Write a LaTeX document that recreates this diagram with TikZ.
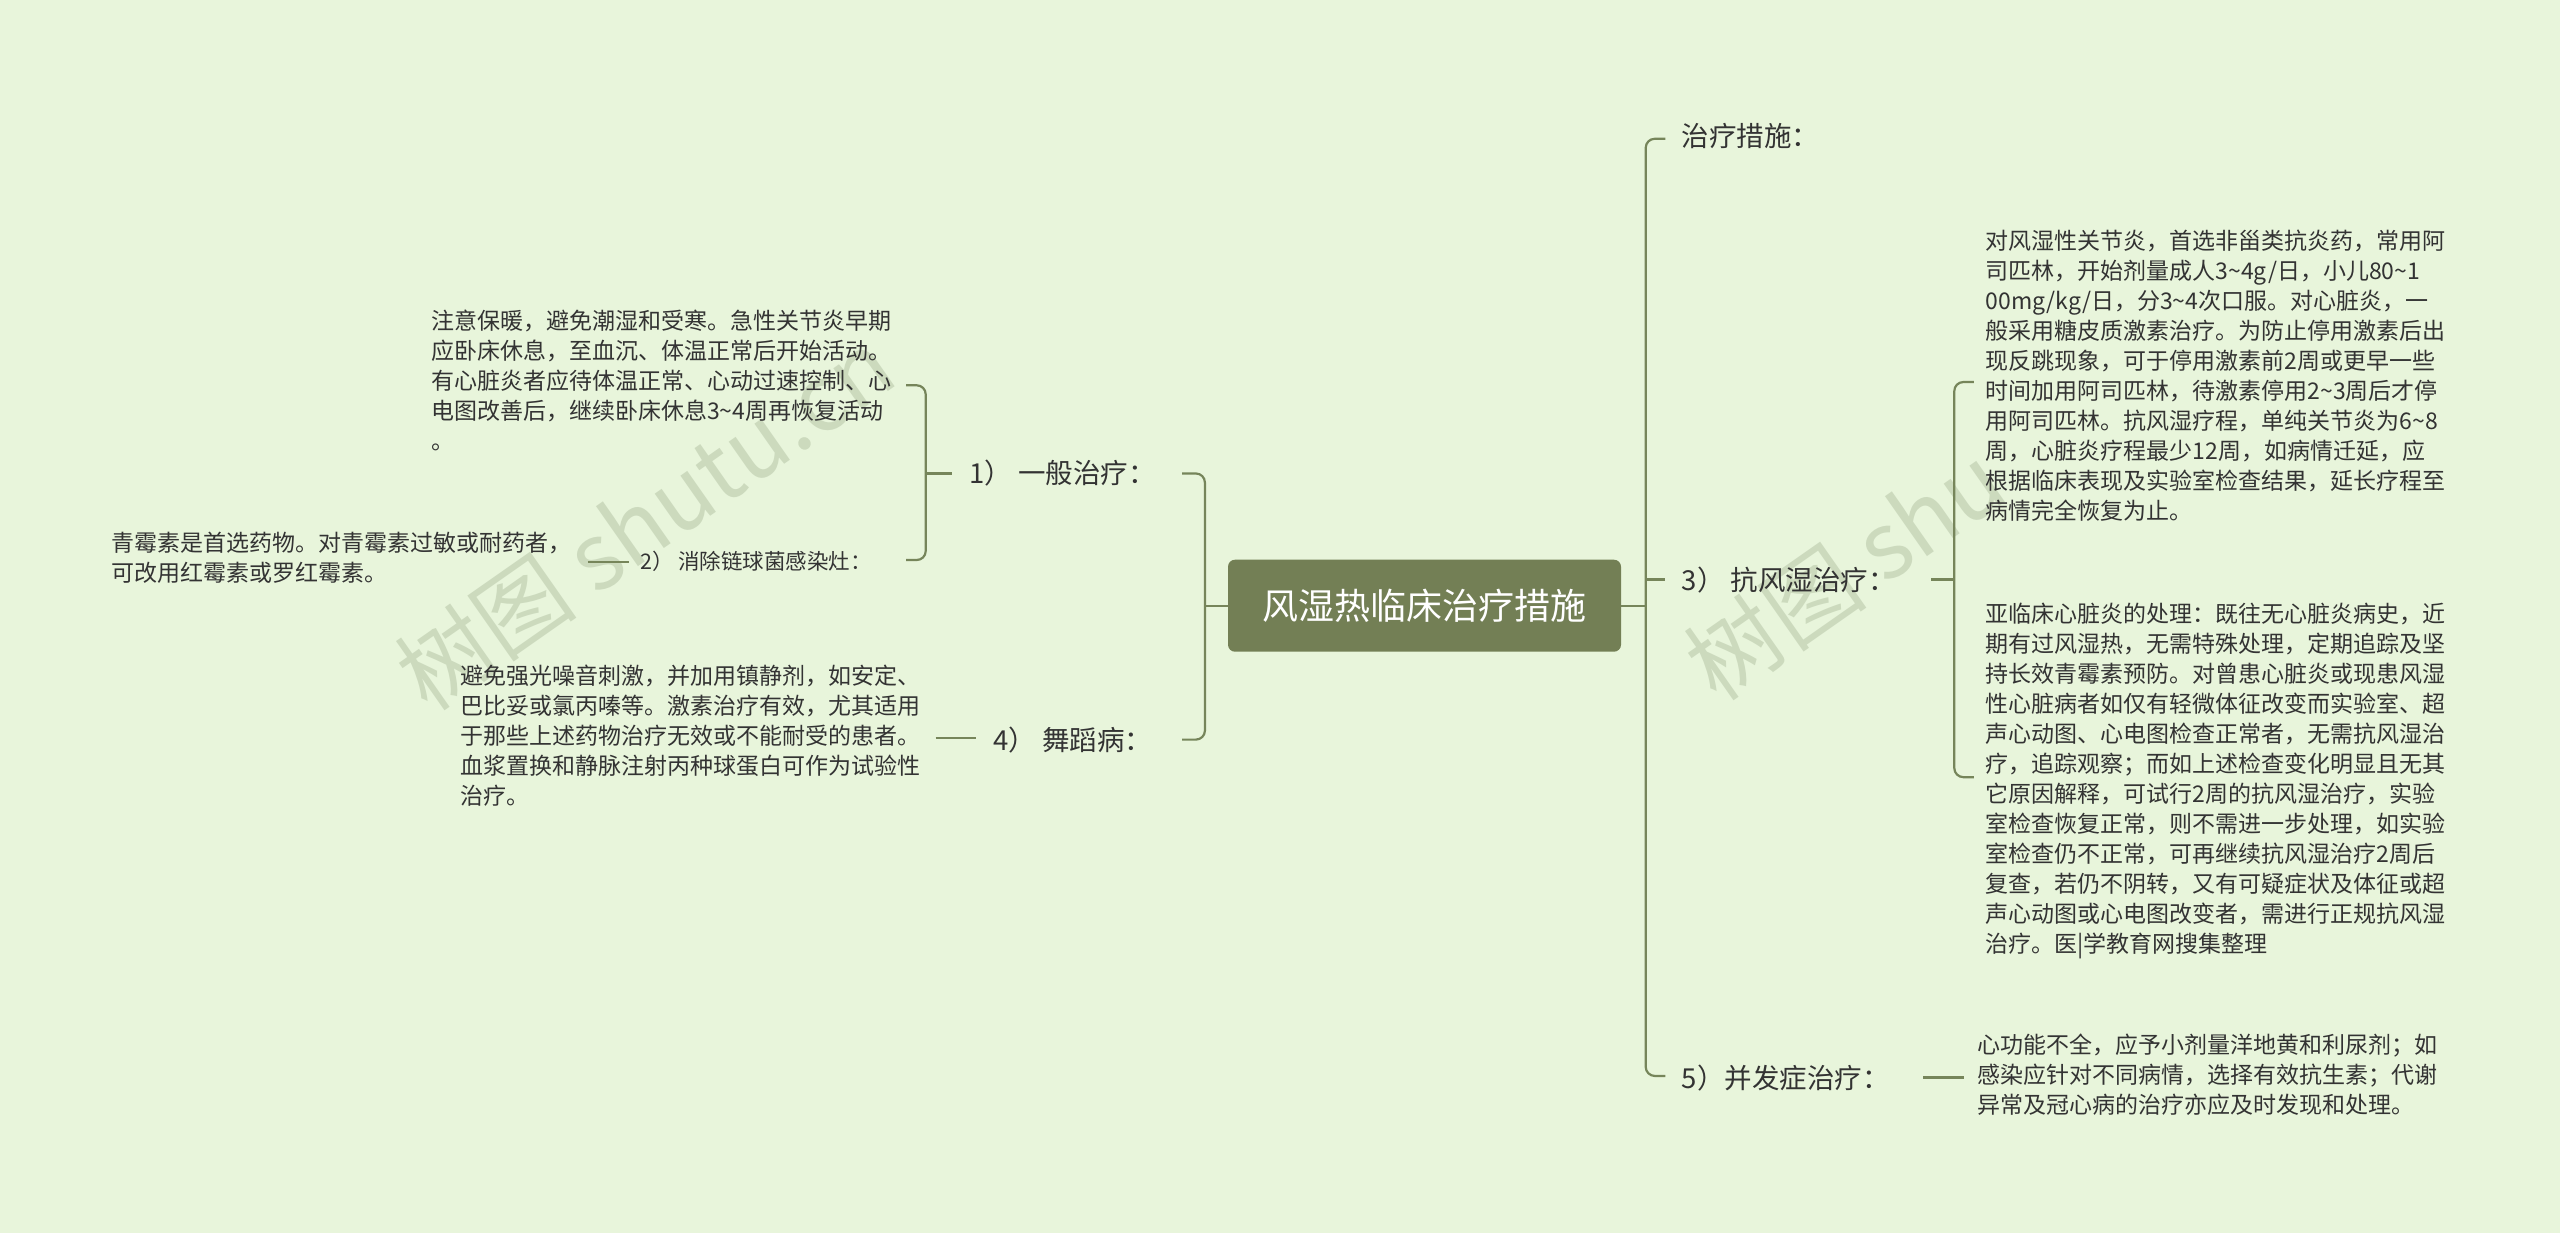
\documentclass[tikz,border=0pt]{standalone}
\usepackage{fontspec}
\setmainfont{Noto Sans CJK SC}
\begin{document}
\begin{tikzpicture}[x=1.63265pt,y=-1.63265pt,
  ln/.style={draw=lnc,line width=2.2pt,rounded corners=9pt},
  body/.style={inner sep=0pt,align=left,anchor=north west,text=txt,font=\fontsize{23}{30}\selectfont},
  lab/.style={inner sep=0pt,anchor=west,text=txt,font=\fontsize{27.5}{32}\selectfont},
  wm/.style={text=wmc,font=\fontsize{92}{92}\selectfont,rotate=35,opacity=0.55}]
\definecolor{bg}{HTML}{E8F5DB}
\definecolor{lnc}{HTML}{76855A}
\definecolor{txt}{HTML}{333333}
\definecolor{cen}{HTML}{737F55}
\definecolor{wmc}{HTML}{B5C4A6}
\fill[bg] (0,0) rectangle (1568,755);
\useasboundingbox (0,0) rectangle (1568,755);
% watermarks
\node[wm] (wm1) at (395,318) {树图 shutu.cn};
\node[wm] (wm2) at (1130,350) {树图 shu};
% center
\node[fill=cen,rounded corners=7pt,inner sep=0pt,
  text=white,font=\fontsize{36}{40}\selectfont,minimum height=92pt,text width=393pt,align=center] (c) at (872.5,371) {风湿热临床治疗措施};
% right branches
\node[lab] (r1) at (1030,83) {治疗措施：};
\node[lab] (r3) at (1030,355) {3）\ 抗风湿治疗：};
\node[lab] (r5) at (1030,660) {5）并发症治疗：};
\draw[ln] (c.east) -- (1008,371);
\draw[ln] (1020,85) -- (1008,85) -- (1008,659) -- (1020,659);
\draw[ln] (1008,355) -- (1020,355);
% 3 sub
\draw[ln] (1183,355) -- (1197,355);
\draw[ln] (1209,234) -- (1197,234) -- (1197,476) -- (1209,476);
\node[body] (b1) at (1216,141) {对风湿性关节炎，首选非甾类抗炎药，常用阿\\司匹林，开始剂量成人3\textasciitilde4g/日，小儿80\textasciitilde1\\00mg/kg/日，分3\textasciitilde4次口服。对心脏炎，一\\般采用糖皮质激素治疗。为防止停用激素后出\\现反跳现象，可于停用激素前2周或更早一些\\时间加用阿司匹林，待激素停用2\textasciitilde3周后才停\\用阿司匹林。抗风湿疗程，单纯关节炎为6\textasciitilde8\\周，心脏炎疗程最少12周，如病情迁延，应\\根据临床表现及实验室检查结果，延长疗程至\\病情完全恢复为止。};
\node[body] (b2) at (1216,369) {亚临床心脏炎的处理：既往无心脏炎病史，近\\期有过风湿热，无需特殊处理，定期追踪及坚\\持长效青霉素预防。对曾患心脏炎或现患风湿\\性心脏病者如仅有轻微体征改变而实验室、超\\声心动图、心电图检查正常者，无需抗风湿治\\疗，追踪观察；而如上述检查变化明显且无其\\它原因解释，可试行2周的抗风湿治疗，实验\\室检查恢复正常，则不需进一步处理，如实验\\室检查仍不正常，可再继续抗风湿治疗2周后\\复查，若仍不阴转，又有可疑症状及体征或超\\声心动图或心电图改变者，需进行正规抗风湿\\治疗。医|学教育网搜集整理};
% 5 sub
\draw[ln] (1178,660) -- (1203,660);
\node[body] (b3) at (1211,633) {心功能不全，应予小剂量洋地黄和利尿剂；如\\感染应针对不同病情，选择有效抗生素；代谢\\异常及冠心病的治疗亦应及时发现和处理。};
% left branches
\node[lab,anchor=east] (l1) at (708,290) {1）\ 一般治疗：};
\node[lab,anchor=east] (l4) at (706,453) {4）\ 舞蹈病：};
\draw[ln] (c.west) -- (738,371);
\draw[ln] (724,290) -- (738,290) -- (738,453) -- (724,453);
% 1 sub
\draw[ln] (583,290) -- (567,290);
\draw[ln] (555,236) -- (567,236) -- (567,343) -- (555,343);
\node[body] (t1) at (264,190) {注意保暖，避免潮湿和受寒。急性关节炎早期\\应卧床休息，至血沉、体温正常后开始活动。\\有心脏炎者应待体温正常、心动过速控制、心\\电图改善后，继续卧床休息3\textasciitilde4周再恢复活动\\。};
\node[lab,anchor=west,font=\fontsize{21.5}{26}\selectfont] (l2) at (392,344) {2）\ 消除链球菌感染灶：};
\draw[ln] (360,344) -- (385,344);
\node[body] (t2) at (68,326) {青霉素是首选药物。对青霉素过敏或耐药者，\\可改用红霉素或罗红霉素。};
% 4 sub
\draw[ln] (573,452) -- (598,452);
\node[body] (t4) at (282,407) {避免强光噪音刺激，并加用镇静剂，如安定、\\巴比妥或氯丙嗪等。激素治疗有效，尤其适用\\于那些上述药物治疗无效或不能耐受的患者。\\血浆置换和静脉注射丙种球蛋白可作为试验性\\治疗。};
\end{tikzpicture}
\end{document}
